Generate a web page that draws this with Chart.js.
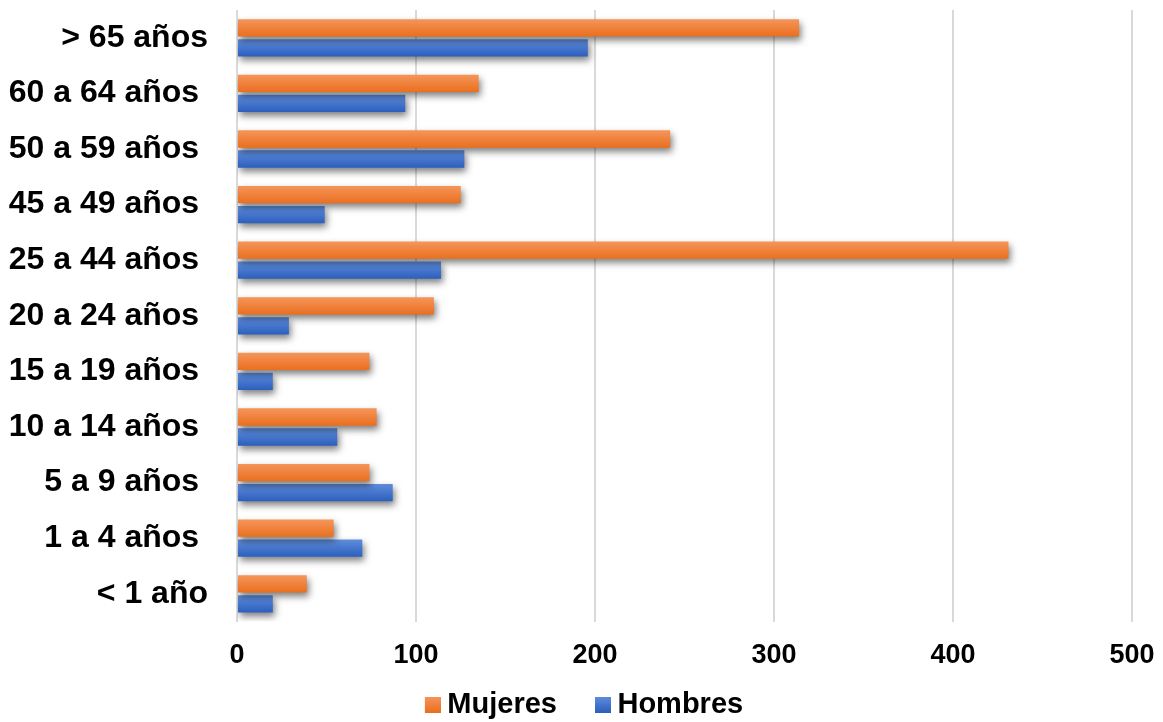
<!DOCTYPE html>
<html>
<head>
<meta charset="utf-8">
<script src="https://cdn.jsdelivr.net/npm/chart.js@4"></script>
<style>
  html, body { margin: 0; padding: 0; background: #ffffff; }
  #wrap { width: 1163px; height: 722px; }
  canvas { display: block; }
</style>
</head>
<body>
<div id="wrap"><canvas id="chart" width="1163" height="722"></canvas></div>
<script>
// Age groups, listed top to bottom
const ageGroups = ['> 65 años', '60 a 64 años ', '50 a 59 años ', '45 a 49 años ', '25 a 44 años ',
                   '20 a 24 años ', '15 a 19 años ', '10 a 14 años ', '5 a 9 años ', '1 a 4 años ', '< 1 año'];
const mujeres = [314, 135, 242, 125, 431, 110, 74, 78, 74, 54, 39];
const hombres = [196, 94, 127, 49, 114, 29, 20, 56, 87, 70, 20];
const seriesNames = ['Mujeres', 'Hombres'];
const xTicks = [0, 100, 200, 300, 400, 500];

// Look
const FONT = "'Liberation Sans', Arial, Helvetica, sans-serif";
const shades = [
  { top: '#f5955a', bottom: '#ea6f1f', mid: '#ed7d31' },
  { top: '#5f8ddc', bottom: '#2c5fbd', mid: '#4472c4' }
];
const PAD = { top: 10, left: 8, right: 31, bottom: -7 };
const PLOT_LEFT = 237;
const PLOT_BOTTOM = 621.6;
const KEY_SLOT = 36;   // legend slot reserved in front of each label

// Legend swatch: a 16px gradient square at the right end of a transparent strip
function swatch(s) {
  const c = document.createElement('canvas');
  c.width = KEY_SLOT + 16; c.height = 16;
  const g = c.getContext('2d');
  const gr = g.createLinearGradient(0, 0, 0, 16);
  gr.addColorStop(0, s.top);
  gr.addColorStop(1, s.bottom);
  g.fillStyle = gr;
  g.fillRect(KEY_SLOT, 0, 16, 16);
  return c;
}
const swatches = shades.map(swatch);

// Vertical gradient on each bar plus a soft drop shadow
const barFinish = {
  id: 'barFinish',
  beforeDatasetsDraw(chart) {
    const ctx = chart.ctx;
    chart.data.datasets.forEach((ds, i) => {
      const meta = chart.getDatasetMeta(i);
      const s = shades[i];
      meta.data.forEach(bar => {
        const { y, height } = bar.getProps(['y', 'height'], true);
        const top = y - height / 2;
        const gr = ctx.createLinearGradient(0, top, 0, top + height);
        gr.addColorStop(0, s.top);
        gr.addColorStop(1, s.bottom);
        bar.options.backgroundColor = gr;
      });
    });
    ctx.save();
    ctx.shadowColor = 'rgba(0,0,0,0.5)';
    ctx.shadowBlur = 7;
    ctx.shadowOffsetX = 2;
    ctx.shadowOffsetY = 4;
  },
  afterDatasetsDraw(chart) {
    chart.ctx.restore();
  }
};

new Chart(document.getElementById('chart'), {
  type: 'bar',
  data: {
    labels: ageGroups,
    datasets: [
      { label: seriesNames[0], data: mujeres, backgroundColor: () => shades[0].mid, borderWidth: 0 },
      { label: seriesNames[1], data: hombres, backgroundColor: () => shades[1].mid, borderWidth: 0 }
    ]
  },
  options: {
    indexAxis: 'y',
    responsive: false,
    animation: false,
    events: [],
    categoryPercentage: 0.72,
    barPercentage: 0.865,
    layout: { padding: PAD },
    scales: {
      x: {
        min: xTicks[0],
        max: xTicks[xTicks.length - 1],
        afterBuildTicks: s => { s.ticks = xTicks.map(v => ({ value: v })); },
        grid: { color: '#d9d9d9', lineWidth: 2, drawTicks: false },
        border: { display: false },
        ticks: {
          padding: 18,
          color: '#000000',
          font: { family: FONT, size: 27, weight: 'bold' }
        },
        afterFit: s => {
          s.paddingLeft = 0;
          s.paddingRight = 0;
          s.height = s.chart.height - PAD.bottom - s.chart.legend.height - PLOT_BOTTOM;
        }
      },
      y: {
        grid: { display: false, drawTicks: false },
        border: { display: false },
        ticks: {
          padding: 29,
          color: '#000000',
          font: { family: FONT, size: 32, weight: 'bold' }
        },
        afterFit: s => {
          s.paddingTop = 0;
          s.paddingBottom = 0;
          s.width = PLOT_LEFT - PAD.left;
        }
      }
    },
    plugins: {
      tooltip: { enabled: false },
      legend: {
        position: 'bottom',
        labels: {
          usePointStyle: true,
          pointStyleWidth: KEY_SLOT,
          boxHeight: 16,
          padding: 10,
          color: '#000000',
          font: { family: FONT, size: 29, weight: 'bold' },
          generateLabels: chart => chart.data.datasets.map((ds, i) => ({
            text: ds.label,
            pointStyle: swatches[i],
            fillStyle: shades[i].mid,
            strokeStyle: 'transparent',
            lineWidth: 0,
            hidden: false,
            datasetIndex: i,
            fontColor: '#000000'
          }))
        }
      }
    }
  },
  plugins: [barFinish]
});
</script>
</body>
</html>
